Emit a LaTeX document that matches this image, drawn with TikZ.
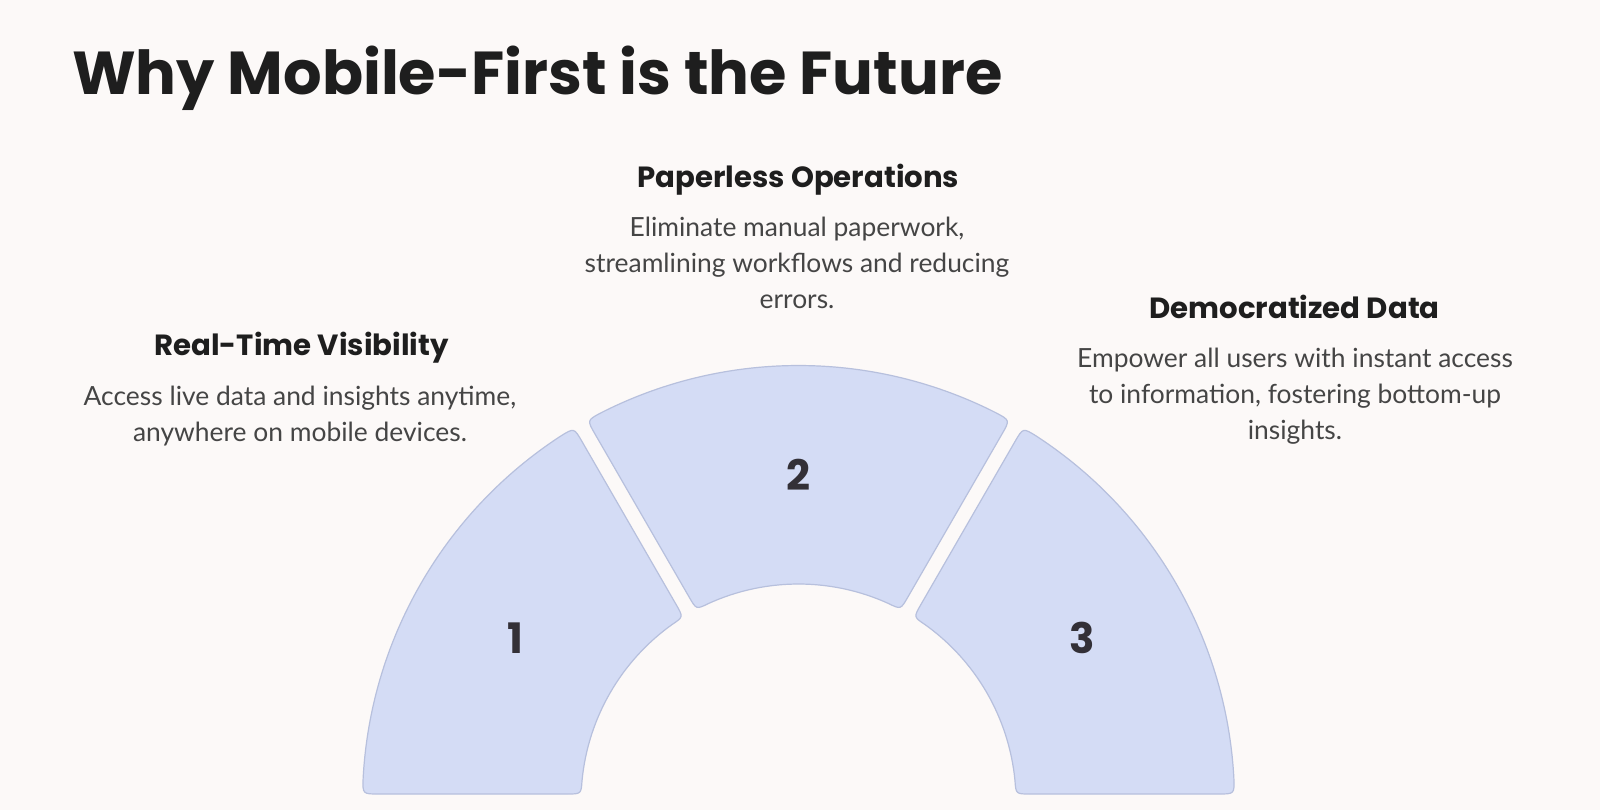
\documentclass[tikz,border=0pt]{standalone}
\usepackage{fontspec}
\setmainfont{Lato}
\newfontfamily\headfont{Poppins}
\usetikzlibrary{calc}
\definecolor{bgc}{HTML}{FCF9F8}
\definecolor{segfill}{HTML}{D4DCF5}
\definecolor{segline}{HTML}{B7C0DD}
\definecolor{headc}{HTML}{1E1E1E}
\definecolor{bodyc}{HTML}{454545}
\definecolor{numc}{HTML}{333037}
\newcommand\archseg[3]{%
  \pgfmathsetmacro\segOa{#1+0.986}\pgfmathsetmacro\segOb{#2-0.986}%
  \pgfmathsetmacro\segIa{#1+1.977}\pgfmathsetmacro\segIb{#2-1.977}%
  \pgfmathsetmacro\segOaa{\segOa+2.1}\pgfmathsetmacro\segObb{\segOb-2.1}%
  \pgfmathsetmacro\segIaa{\segIa+3.6}\pgfmathsetmacro\segIbb{\segIb-3.6}%
  \coordinate (#3Oa) at ($(C)+(\segOa:436)$);
  \coordinate (#3Ob) at ($(C)+(\segOb:436)$);
  \coordinate (#3Ia) at ($(C)+(\segIa:217.5)$);
  \coordinate (#3Ib) at ($(C)+(\segIb:217.5)$);
  \coordinate (#3S) at ($(C)+(\segObb:436)$);
  \draw[seg] (#3S) arc[start angle=\segObb, end angle=\segOaa, radius=436]
    .. controls (#3Oa) .. ($(#3Oa)!8pt!(#3Ia)$)
    -- ($(#3Ia)!7pt!(#3Oa)$)
    .. controls (#3Ia) .. ($(C)+(\segIaa:217.5)$)
    arc[start angle=\segIaa, end angle=\segIbb, radius=217.5]
    .. controls (#3Ib) .. ($(#3Ib)!7pt!(#3Ob)$)
    -- ($(#3Ob)!8pt!(#3Ib)$)
    .. controls (#3Ob) .. (#3S) -- cycle;
}
\begin{document}
\begin{tikzpicture}[x=0.5pt,y=0.5pt,
  seg/.style={fill=segfill, draw=segline, line width=0.6pt},
  titletext/.style={anchor=base west, inner sep=0pt, text=headc, font=\headfont\bfseries\fontsize{30.3}{36}\selectfont},
  headtext/.style={anchor=base, inner sep=0pt, text=headc, font=\headfont\bfseries\fontsize{14.6}{18}\selectfont},
  bodytext/.style={anchor=base, inner sep=0pt, text=bodyc, align=center, font=\fontsize{13.2}{18}\selectfont},
  numtext/.style={inner sep=0pt, text=numc, font=\headfont\bfseries\fontsize{21}{24}\selectfont}]
\fill[bgc] (0,0) rectangle (1600,810);
\useasboundingbox (0,0) rectangle (1600,810);
\coordinate (C) at (798.5,8.5);
\archseg{120}{180}{sa}
\archseg{60}{120}{sb}
\archseg{0}{60}{sc}
\node[numtext] (n1) at ($(C)+(150:327)$) {1};
\node[numtext] (n2) at ($(C)+(90:327)$) {2};
\node[numtext] (n3) at ($(C)+(30:327)$) {3};
\node[titletext] (title) at (71.7,715) {Why Mobile-First is the Future};
\node[headtext] (h1) at (301.5,454.3) {Real-Time Visibility};
\node[bodytext] (b1) at (300,369) {Access live data and insights anytime,\\anywhere on mobile devices.};
\node[headtext] (h2) at (798.3,622.7) {Paperless Operations};
\node[bodytext] (b2) at (797,502) {Eliminate manual paperwork,\\streamlining workflows and reducing\\errors.};
\node[headtext] (h3) at (1294.5,491.7) {Democratized Data};
\node[bodytext] (b3) at (1295,370.7) {Empower all users with instant access\\to information, fostering bottom-up\\insights.};
\end{tikzpicture}
\end{document}
